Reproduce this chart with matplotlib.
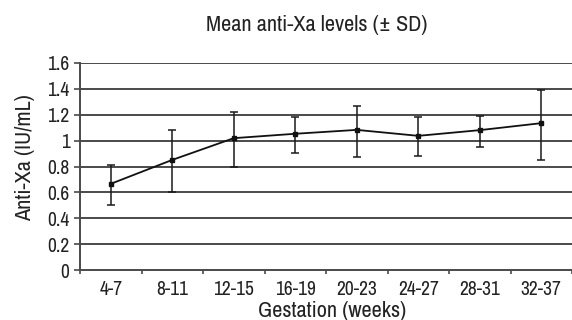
import numpy as np
import matplotlib
matplotlib.use("Agg")
import matplotlib.pyplot as plt
from matplotlib import font_manager

# Data
weeks = ["4-7", "8-11", "12-15", "16-19", "20-23", "24-27", "28-31", "32-37"]
mean_xa = [0.666, 0.851, 1.019, 1.053, 1.083, 1.037, 1.081, 1.135]
sd_low = [0.16, 0.25, 0.22, 0.15, 0.21, 0.155, 0.13, 0.285]
sd_high = [0.147, 0.232, 0.206, 0.127, 0.187, 0.143, 0.109, 0.258]
y_ticks = [0, 0.2, 0.4, 0.6, 0.8, 1, 1.2, 1.4, 1.6]
y_labels = ["0", "0.2", "0.4", "0.6", "0.8", "1", "1.2", "1.4", "1.6"]

# look for a condensed face, otherwise plain Liberation Sans
names = sorted({f.name for f in font_manager.fontManager.ttflist})
narrow = [n for n in names if "Narrow" in n or "Condensed" in n]
plt.rcParams["font.family"] = narrow[:1] + ["Liberation Sans", "DejaVu Sans"]

fig = plt.figure(figsize=(5.72, 3.2), dpi=100)
ax = fig.add_axes([80 / 572, 1 - 270 / 320, 1 - 80 / 572, 207 / 320])

x = np.arange(len(weeks))
grid_col = "#4a4a4a"
txt_col = "#222222"

for yv in y_ticks[1:]:
    ax.axhline(yv, color=grid_col, lw=1.4, zorder=1)

ax.errorbar(x, mean_xa, yerr=[sd_low, sd_high], fmt="none", ecolor="#1a1a1a",
            elinewidth=1.1, capsize=3, capthick=1.1, zorder=3)
ax.plot(x, mean_xa, color="#111111", lw=1.3, marker="s", ms=3, zorder=4)

ax.set_ylim(0, 1.6)
ax.set_xlim(-0.5, 7.33)
ax.set_yticks(y_ticks)
ax.set_yticklabels(y_labels)
ax.set_xticks(x)
ax.set_xticklabels(weeks)
ax.set_xticks(np.arange(-0.5, 8, 1), minor=True)

for s in ["top", "right"]:
    ax.spines[s].set_visible(False)
ax.spines["left"].set_color(grid_col)
ax.spines["left"].set_linewidth(1.4)
ax.spines["bottom"].set_color(grid_col)
ax.spines["bottom"].set_linewidth(1.4)

ax.tick_params(axis="y", length=4, width=1.2, color=grid_col, labelsize=14, pad=3.5,
               labelcolor=txt_col)
ax.tick_params(axis="x", which="major", length=0, labelsize=14, pad=7.5,
               labelcolor=txt_col)
ax.tick_params(axis="x", which="minor", length=3, width=1.2, color=grid_col)

fig.text(25 / 572, 1 - 158 / 320, "Anti-Xa (IU/mL)", rotation=90, ha="center",
         va="center", fontsize=16, color=txt_col)
fig.text(332 / 572, 1 - 311 / 320, "Gestation (weeks)", ha="center",
         va="center", fontsize=16, color=txt_col)
fig.text(317 / 572, 1 - 25 / 320, "Mean anti-Xa levels (\u00b1 SD)", ha="center",
         va="center", fontsize=16, color=txt_col)

fig.savefig("out.png", dpi=100)
